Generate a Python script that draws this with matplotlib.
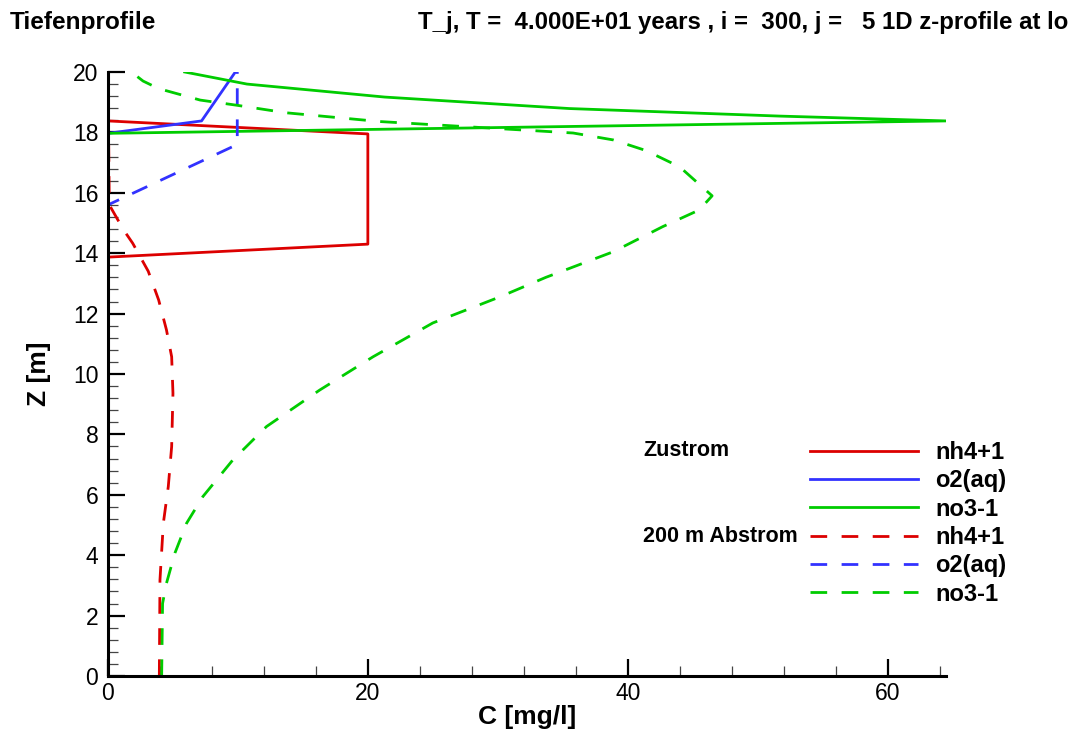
import matplotlib
matplotlib.use("Agg")
import matplotlib.pyplot as plt
from matplotlib.ticker import MultipleLocator
from matplotlib.lines import Line2D

plt.rcParams['font.family'] = ['Liberation Sans', 'DejaVu Sans']

# Zustrom (inflow) profiles
z_nh4_in = [0, 13.87, 14.3, 17.95, 18.38, 20]
c_nh4_in = [0, 0, 20, 20, 0, 0]

z_o2_in = [0, 17.97, 18.38, 20]
c_o2_in = [0, 0, 7.2, 9.8]

z_no3_in = [0, 17.97, 18.38, 18.54, 18.79, 19.17, 19.6, 20]
c_no3_in = [0, 0, 64.5, 51.7, 35.5, 21.3, 10.7, 5.9]

# 200 m Abstrom (downstream) profiles
z_nh4_out = [0, 3.18, 5.06, 6.27, 7.6, 9.36, 10.57, 11.46, 12.45, 13.4, 14.33, 14.77, 15.6, 20]
c_nh4_out = [3.95, 4.0, 4.26, 4.64, 4.9, 5.0, 4.9, 4.5, 3.9, 3.1, 1.9, 1.2, 0.1, 0]

z_o2_out = [0, 15.6, 17.6, 20]
c_o2_out = [0, 0, 9.95, 9.95]

z_no3_out = [0, 2.4, 3.07, 4.07, 5.06, 5.94, 7.15, 8.26, 9.47, 10.57, 11.69, 12.56, 13.2,
             14.05, 14.88, 15.43, 15.9, 16.86, 17.4, 17.75, 17.98, 18.36, 18.65, 18.9,
             19.07, 19.45, 19.7, 20]
c_no3_out = [4.13, 4.2, 4.5, 5.15, 6.05, 7.3, 9.6, 12.2, 16.3, 20.4, 25, 30.2, 33.7,
             38.9, 42.7, 45.5, 46.5, 44, 41.4, 38.9, 35.8, 20.9, 13.7, 9.9,
             7.1, 3.9, 2.7, 1.8]

species = ['nh4+1', 'o2(aq)', 'no3-1']
red, blue, green = '#dc0000', '#3232ff', '#00cc00'
dash = (6, 5.2)
lw = 2.0

fig = plt.figure(figsize=(10.86, 7.31), dpi=100)
ax = fig.add_axes([108 / 1086, 55 / 731, 838 / 1086, 604 / 731])

ax.plot(c_nh4_in, z_nh4_in, color=red, lw=lw)
ax.plot(c_o2_in, z_o2_in, color=blue, lw=lw)
ax.plot(c_no3_in, z_no3_in, color=green, lw=lw)
ax.plot(c_nh4_out, z_nh4_out, color=red, lw=lw, dashes=dash)
ax.plot(c_o2_out, z_o2_out, color=blue, lw=lw, dashes=dash)
ax.plot(c_no3_out, z_no3_out, color=green, lw=lw, dashes=dash)

ax.set_xlim(0, 64.5)
ax.set_ylim(0, 20)
ax.xaxis.set_major_locator(MultipleLocator(20))
ax.xaxis.set_minor_locator(MultipleLocator(4))
ax.yaxis.set_major_locator(MultipleLocator(2))
ax.yaxis.set_minor_locator(MultipleLocator(0.4))

for s in ['top', 'right']:
    ax.spines[s].set_visible(False)
for s in ['left', 'bottom']:
    ax.spines[s].set_linewidth(2.2)

ax.tick_params(which='major', direction='in', length=12, width=1.6, labelsize=16.5)
ax.tick_params(which='minor', direction='in', length=7, width=0.9, color='#444444')
ax.tick_params(axis='y', which='major', pad=7)
ax.tick_params(axis='x', which='major', pad=4)

ax.set_xlabel('C [mg/l]', fontsize=19, fontweight='bold', labelpad=0)
ax.set_ylabel('Z [m]', fontsize=19, fontweight='bold', labelpad=16)

# legend
handles = [Line2D([], [], color=c, lw=lw) for c in (red, blue, green)]
handles += [Line2D([], [], color=c, lw=lw, dashes=dash) for c in (red, blue, green)]
ax.legend(handles, species * 2, loc='upper left', bbox_to_anchor=(810 / 1086, 1 - 441 / 731),
          bbox_transform=fig.transFigure, frameon=False, borderpad=0, borderaxespad=0,
          handlelength=4.58, handletextpad=0.72, labelspacing=0.225,
          prop={'size': 17, 'weight': 'bold'})
fig.text(643 / 1086, 1 - 450 / 731, 'Zustrom', fontsize=15.5, fontweight='bold', va='center')
fig.text(643 / 1086, 1 - 537 / 731, '200 m Abstrom', fontsize=15.5, fontweight='bold', va='center')

fig.text(10 / 1086, 1 - 22 / 731, 'Tiefenprofile', fontsize=17.6, fontweight='bold', va='center')
fig.text(418 / 1086, 1 - 22 / 731, 'T_j, T =  4.000E+01 years , i =  300, j =   5 1D z-profile at lo',
         fontsize=17.3, fontweight='bold', va='center')

fig.savefig('out.png', dpi=100)
